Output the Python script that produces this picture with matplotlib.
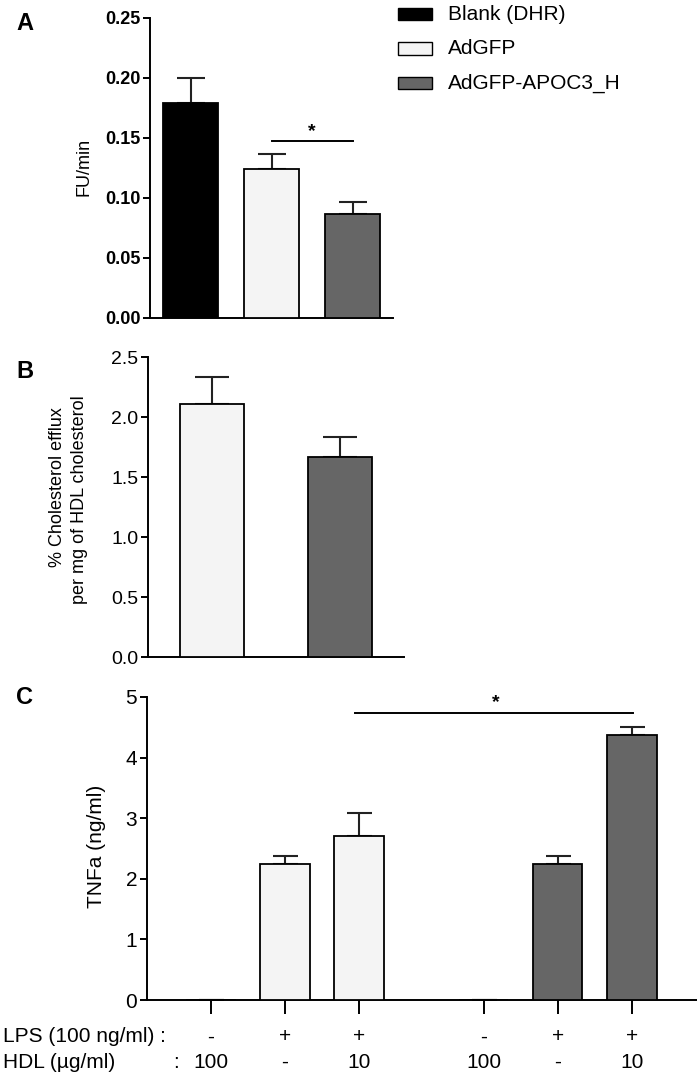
import numpy as np
import matplotlib
matplotlib.use("Agg")
import matplotlib.pyplot as plt

plt.rcParams['font.family'] = ['Liberation Sans', 'DejaVu Sans']

# -----------------------
# Data
# -----------------------
groups = ["Blank (DHR)", "AdGFP", "AdGFP-APOC3_H"]
colors = ["#000000", "#f4f4f4", "#666666"]

# A: FU/min
a_vals = [0.179, 0.124, 0.087]
a_err = [0.021, 0.013, 0.010]

# B: cholesterol efflux (AdGFP, AdGFP-APOC3_H)
b_vals = [2.11, 1.67]
b_err = [0.22, 0.16]

# C: TNFa, per group: LPS-/HDL100, LPS+/HDL-, LPS+/HDL10
c_gfp = [0.0, 2.25, 2.70]
c_gfp_err = [0.0, 0.13, 0.38]
c_apoc3 = [0.0, 2.25, 4.38]
c_apoc3_err = [0.0, 0.13, 0.13]
lps_labels = ["-", "+", "+", "-", "+", "+"]
hdl_labels = ["100", "-", "10", "100", "-", "10"]

W, H = 697, 1077
fig = plt.figure(figsize=(W / 100, H / 100), dpi=100)

def ax_px(left, top, right, bottom):
    return fig.add_axes([left / W, 1 - bottom / H, (right - left) / W, (bottom - top) / H])

def fig_text(x, y, s, **kw):
    # position in pixels from top-left
    return fig.text(x / W, 1 - y / H, s, **kw)

def style(ax):
    ax.spines['top'].set_visible(False)
    ax.spines['right'].set_visible(False)
    ax.spines['left'].set_linewidth(1.4)
    ax.spines['bottom'].set_linewidth(1.4)
    ax.tick_params(axis='y', width=1.4, length=5, pad=2)

def bars(ax, x, vals, err, cols, width, cap):
    ax.bar(x, vals, width=width, color=cols, edgecolor="black", linewidth=1.3, zorder=3)
    ax.errorbar(x, vals, yerr=[np.zeros(len(vals)), err], fmt="none", ecolor="#222222",
                elinewidth=1.5, capsize=cap, capthick=1.5, zorder=2)

# -----------------------
# Panel A
# -----------------------
axA = ax_px(150, 18, 393, 318)
style(axA)
xa = np.arange(3)
bars(axA, xa, a_vals, a_err, colors, 0.675, 10)
axA.set_xlim(-0.5, 2.5)
axA.set_ylim(0, 0.25)
ya = np.arange(0, 0.26, 0.05)
axA.set_yticks(ya)
axA.set_yticklabels([f"{v:.2f}" for v in ya], fontsize=13, fontweight="bold")
axA.set_xticks([])
fig_text(84, 167, "FU/min", fontsize=13, rotation=90, ha="center", va="center")
axA.plot([1, 2], [0.1475, 0.1475], color="black", lw=1.4, clip_on=False)
axA.text(1.5, 0.155, "*", ha="center", va="center", fontsize=14, fontweight="bold")
fig_text(16, 24, "A", fontsize=17, fontweight="bold", va="center")

# legend
for i, (g, c) in enumerate(zip(groups, colors)):
    y = 14 + i * 34.5
    fig.patches.append(plt.Rectangle((398 / W, 1 - (y + 6) / H), 34 / W, 12 / H,
                                     facecolor=c, edgecolor="black", lw=1.0,
                                     transform=fig.transFigure, figure=fig))
    fig_text(448, y, g, fontsize=15, va="center")

# -----------------------
# Panel B
# -----------------------
axB = ax_px(148, 357, 404, 657)
style(axB)
xb = np.arange(2)
bars(axB, xb, b_vals, b_err, colors[1:], 0.5, 12)
axB.set_xlim(-0.5, 1.5)
axB.set_ylim(0, 2.5)
yb = np.arange(0, 2.6, 0.5)
axB.set_yticks(yb)
axB.set_yticklabels([f"{v:.1f}" for v in yb], fontsize=14)
axB.set_xticks([])
fig_text(58, 487, "% Cholesterol efflux", fontsize=13, rotation=90, ha="center", va="center")
fig_text(80, 500, "per mg of HDL cholesterol", fontsize=13, rotation=90, ha="center", va="center")
fig_text(16, 372, "B", fontsize=17, fontweight="bold", va="center")

# -----------------------
# Panel C
# -----------------------
axC = ax_px(147, 697, 697, 1000)
style(axC)
gap = 3.68
xc1 = np.arange(3)
xc2 = np.arange(3) + gap
bars(axC, xc1, c_gfp, c_gfp_err, colors[1], 0.67, 9)
bars(axC, xc2, c_apoc3, c_apoc3_err, colors[2], 0.67, 9)
axC.set_xlim(-0.86, xc2[-1] + 0.88)
axC.set_ylim(0, 5)
axC.set_yticks(range(6))
axC.set_yticklabels([str(v) for v in range(6)], fontsize=15)
xc = np.concatenate([xc1, xc2])
axC.set_xticks(xc)
axC.set_xticklabels([])
axC.tick_params(axis='x', width=1.4, length=10, direction="out")
fig_text(96, 846, "TNFa (ng/ml)", fontsize=15, rotation=90, ha="center", va="center")
axC.plot([xc1[2] - 0.05, xc2[2] + 0.01], [4.74, 4.74], color="black", lw=1.4)
axC.text((xc1[2] + xc2[2]) / 2, 4.9, "*", ha="center", va="center", fontsize=14, fontweight="bold")
fig_text(16, 697, "C", fontsize=17, fontweight="bold", va="center")

# condition rows under panel C
trans = axC.get_xaxis_transform()
for xi, l, h in zip(xc, lps_labels, hdl_labels):
    axC.text(xi, -37 / 303, l, transform=trans, ha="center", va="center", fontsize=15)
    axC.text(xi, -62 / 303, h, transform=trans, ha="center", va="center", fontsize=15)
fig_text(3, 1037, "LPS (100 ng/ml) :", fontsize=15, va="center")
fig_text(3, 1062, "HDL (µg/ml)", fontsize=15, va="center")
fig_text(173, 1062, ":", fontsize=15, va="center")

fig.savefig("out.png", dpi=100)
